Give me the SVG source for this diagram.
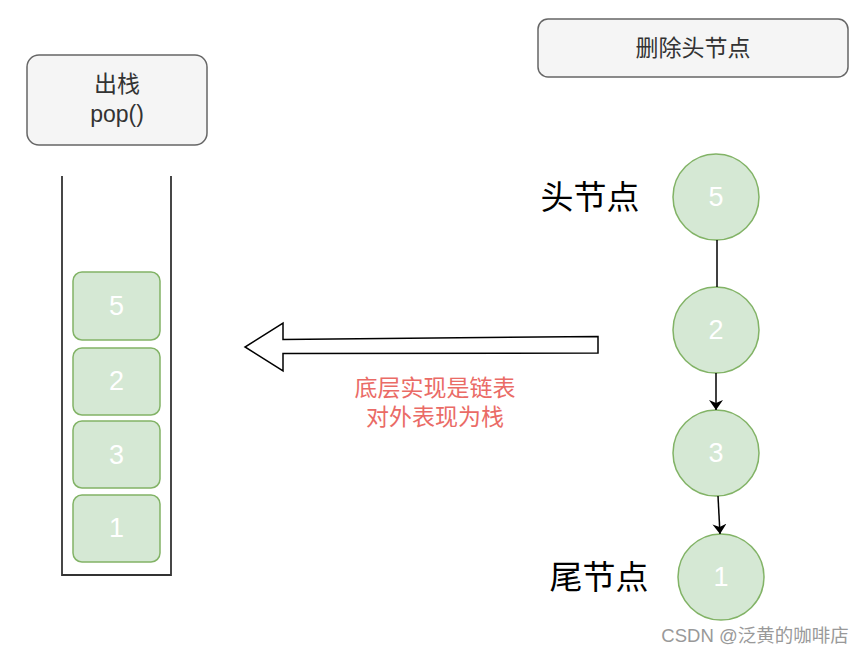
<svg xmlns="http://www.w3.org/2000/svg" width="867" height="655" viewBox="0 0 867 655">
<style>
text{font-family:"Liberation Sans","Noto Sans CJK SC",sans-serif;text-anchor:middle;dominant-baseline:central}
.box{fill:#f5f5f5;stroke:#666;stroke-width:1.5}
.item{fill:#d5e8d4;stroke:#82b366;stroke-width:1.5}
.num{fill:#fff;font-size:27px}
.lbl{fill:#333;font-size:23px}
.big{fill:#000;font-size:33px}
.red{fill:#ea6b66;font-size:23px}
.edge{stroke:#000;stroke-width:1.5;fill:none}
</style>
<defs>
<marker id="ah" viewBox="0 0 10 14" refX="10" refY="7" markerWidth="10" markerHeight="14" orient="auto" markerUnits="userSpaceOnUse">
<path d="M0,0 L10,7 L0,14 L3,7 Z" fill="#000"/>
</marker>
</defs>
<rect width="867" height="655" fill="#fff"/>
<g id="pop">
<rect class="box" x="27" y="55" width="180" height="90" rx="12"/>
<text class="lbl" x="117" y="84">出栈</text>
<text class="lbl" x="117" y="114">pop()</text>
</g>
<g id="delhead">
<rect class="box" x="538" y="19" width="310" height="58" rx="10"/>
<text class="lbl" x="693" y="48">删除头节点</text>
</g>
<g id="stack">
<path d="M62,176 V575 H171 V176" fill="none" stroke="#333" stroke-width="1.8"/>
</g>
<g id="s5"><rect class="item" x="73" y="272" width="87" height="68" rx="9"/><text class="num" x="116.5" y="306">5</text></g>
<g id="s2"><rect class="item" x="73" y="348" width="87" height="67" rx="9"/><text class="num" x="116.5" y="381">2</text></g>
<g id="s3"><rect class="item" x="73" y="421" width="87" height="67" rx="9"/><text class="num" x="116.5" y="455">3</text></g>
<g id="s1"><rect class="item" x="73" y="495" width="87" height="67" rx="9"/><text class="num" x="116.5" y="528">1</text></g>
<g id="c5"><circle class="item" cx="716" cy="197" r="43"/><text class="num" x="716" y="197">5</text></g>
<g id="c2"><circle class="item" cx="716" cy="330" r="43"/><text class="num" x="716" y="330">2</text></g>
<g id="c3"><circle class="item" cx="716" cy="453" r="43"/><text class="num" x="716" y="453">3</text></g>
<g id="c1"><circle class="item" cx="721" cy="577" r="43"/><text class="num" x="721" y="577">1</text></g>
<g id="head"><text class="big" x="590" y="197">头节点</text></g>
<g id="tail"><text class="big" x="599" y="577">尾节点</text></g>
<g id="connectors">
<line class="edge" x1="717" y1="240" x2="717" y2="287"/>
<line class="edge" x1="716" y1="373" x2="716" y2="410" marker-end="url(#ah)"/>
<line class="edge" x1="718" y1="496" x2="720" y2="534" marker-end="url(#ah)"/>
<path d="M598,336.5 L283,339.5 L283,323 L245,347 L283,371 L283,353.5 L598,353 Z" fill="#fff" stroke="#000" stroke-width="1.5" stroke-linejoin="miter"/>
</g>
<g id="note">
<text class="red" x="435" y="388">底层实现是链表</text>
<text class="red" x="435" y="417">对外表现为栈</text>
</g>
<text x="755" y="635" font-size="18.5" fill="#999" style="font-family:'Liberation Sans','Noto Sans CJK SC',sans-serif">CSDN @泛黄的咖啡店</text>
</svg>
